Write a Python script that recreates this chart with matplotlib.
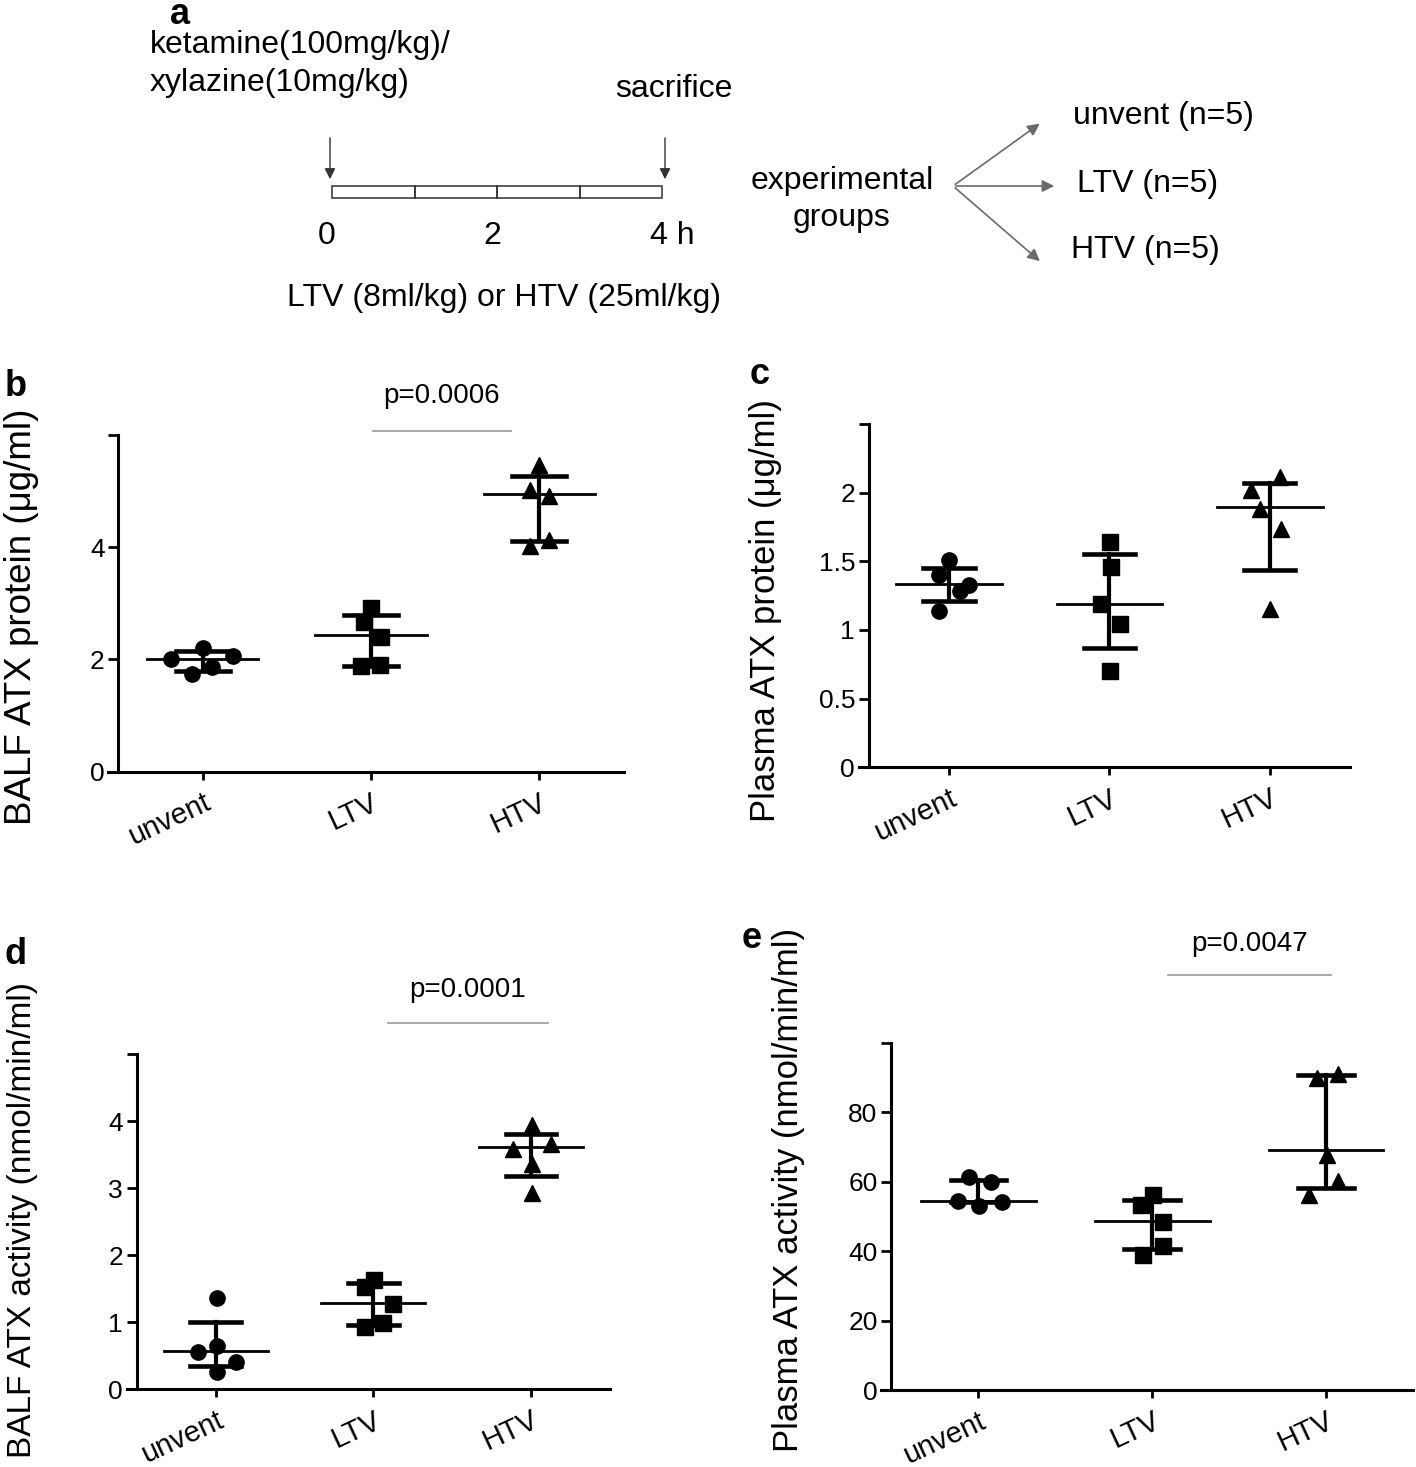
import numpy as np
import matplotlib.pyplot as plt
from matplotlib.patches import Rectangle
from matplotlib.transforms import ScaledTranslation

plt.rcParams['font.family'] = ['Liberation Sans', 'DejaVu Sans']

W, H = 1416, 1467
DPI = 100

groups = ['unvent', 'LTV', 'HTV']
markers = ['o', 's', '^']

# b: BALF ATX protein (ug/ml)
b_values = [[2.00, 2.21, 1.74, 1.86, 2.06],
            [2.91, 2.67, 2.40, 1.88, 1.90],
            [5.46, 5.01, 4.91, 4.01, 4.12]]
b_jitter = [[-0.19, 0.0, -0.06, 0.055, 0.18],
            [0.0, -0.044, 0.06, -0.057, 0.055],
            [0.0, -0.055, 0.06, -0.055, 0.06]]
b_mid = [2.00, 2.43, 4.94]
b_low = [1.80, 1.88, 4.11]
b_high = [2.15, 2.79, 5.26]

# c: Plasma ATX protein (ug/ml)
c_values = [[1.506, 1.397, 1.136, 1.331, 1.282],
            [1.64, 1.457, 1.19, 1.041, 0.698],
            [2.117, 2.02, 1.883, 1.732, 1.156]]
c_jitter = [[0.0, -0.06, -0.06, 0.125, 0.067],
            [0.004, 0.008, -0.052, 0.067, 0.004],
            [0.063, -0.119, -0.063, 0.069, 0.0]]
c_mid = [1.336, 1.192, 1.893]
c_low = [1.209, 0.869, 1.44]
c_high = [1.448, 1.55, 2.073]

# d: BALF ATX activity (nmol/min/ml)
d_values = [[1.365, 0.561, 0.65, 0.412, 0.253],
            [1.628, 1.519, 1.27, 0.923, 0.983],
            [3.935, 3.588, 3.653, 3.355, 2.928]]
d_jitter = [[0.006, -0.11, 0.006, 0.13, 0.006],
            [0.004, -0.053, 0.127, -0.053, 0.063],
            [0.004, -0.112, 0.125, 0.004, 0.004]]
d_mid = [0.576, 1.28, 3.608]
d_low = [0.352, 0.958, 3.181]
d_high = [1.007, 1.588, 3.801]

# e: Plasma ATX activity (nmol/min/ml)
e_values = [[61.25, 59.8, 54.3, 53.1, 54.0],
            [56.25, 53.2, 48.3, 38.9, 41.5],
            [89.9, 90.9, 67.8, 60.1, 56.25]]
e_jitter = [[-0.054, 0.071, -0.117, 0.004, 0.134],
            [0.004, -0.063, 0.061, -0.054, 0.061],
            [-0.054, 0.071, 0.004, 0.071, -0.096]]
e_mid = [54.3, 48.6, 69.0]
e_low = [54.0, 40.6, 58.3]
e_high = [60.6, 54.6, 90.7]

fig = plt.figure(figsize=(W / DPI, H / DPI), dpi=DPI)


def box(x0, y_top, x1, y_bot):
    return [x0 / W, 1 - y_bot / H, (x1 - x0) / W, (y_bot - y_top) / H]


def scatter_panel(rect, values, jitter, mid, low, high, ylim, yticks, ylabels):
    ax = fig.add_axes(rect)
    for i in range(3):
        xs = i + np.array(jitter[i])
        ax.plot(xs, values[i], linestyle='none', marker=markers[i],
                color='black', markersize=11, zorder=3)
        ax.plot([i - 0.33, i + 0.33], [mid[i], mid[i]], color='black', lw=2.0, zorder=4)
        ax.plot([i, i], [low[i], high[i]], color='black', lw=3.0, zorder=4)
        for v in (low[i], high[i]):
            ax.plot([i - 0.16, i + 0.16], [v, v], color='black', lw=3.3, zorder=4)
    ax.set_xlim(-0.56, 2.5)
    ax.set_ylim(*ylim)
    ax.spines['left'].set_position(('data', -0.5))
    for s in ('top', 'right'):
        ax.spines[s].set_visible(False)
    for s in ('left', 'bottom'):
        ax.spines[s].set_linewidth(2.2)
    ax.set_yticks(yticks)
    ax.set_yticklabels(ylabels, fontsize=19)
    ax.set_xticks(range(3))
    ax.set_xticklabels(groups, fontsize=21, rotation=25, ha='right',
                       rotation_mode='anchor')
    off = ScaledTranslation(13 / DPI, 0, fig.dpi_scale_trans)
    for lab in ax.get_xticklabels():
        lab.set_transform(lab.get_transform() + off)
    ax.tick_params(axis='y', length=7, width=2, pad=3)
    ax.tick_params(axis='x', length=6, width=2, pad=6)
    ax.patch.set_visible(False)
    return ax


ax_b = scatter_panel(box(108.3, 434.7, 623.5, 771.7), b_values, b_jitter, b_mid, b_low, b_high,
                     (0, 6), [0, 2, 4, 6], ['0', '2', '4', ''])
ax_c = scatter_panel(box(859.3, 424, 1350, 767.3), c_values, c_jitter, c_mid, c_low, c_high,
                     (0, 2.5), [0, 0.5, 1, 1.5, 2, 2.5], ['0', '0.5', '1', '1.5', '2', ''])
ax_d = scatter_panel(box(127.3, 1054, 610, 1389.3), d_values, d_jitter, d_mid, d_low, d_high,
                     (0, 5), [0, 1, 2, 3, 4, 5], ['0', '1', '2', '3', '4', ''])
ax_e = scatter_panel(box(881, 1042.7, 1413, 1390), e_values, e_jitter, e_mid, e_low, e_high,
                     (0, 100), [0, 20, 40, 60, 80, 100], ['0', '20', '40', '60', '80', ''])

# significance bars
sig = [(ax_b, 1.01, 1.83, 6.07, 6.69, 'p=0.0006'),
       (ax_d, 1.09, 2.11, 5.46, 5.95, 'p=0.0001'),
       (ax_e, 1.09, 2.03, 119.5, 128.4, 'p=0.0047')]
for ax, x0, x1, yl, yt, txt in sig:
    ax.plot([x0, x1], [yl, yl], color='#9a9a9a', lw=1.2, clip_on=False)
    ax.text((x0 + x1) / 2, yt, txt, ha='center', va='center', fontsize=20, clip_on=False)

# y labels
ylab = [(22, 617, 26.5, 'BALF ATX protein (μg/ml)'),
        (765, 611, 25, 'Plasma ATX protein (μg/ml)'),
        (23, 1220, 24, 'BALF ATX activity (nmol/min/ml)'),
        (789, 1190, 25, 'Plasma ATX activity (nmol/min/ml)')]
for lx, ly, fs, s in ylab:
    fig.text(lx / W, 1 - ly / H, s, rotation=90, ha='center', va='center', fontsize=fs)

# panel letters
for lx, ly, l in [(180, 15, 'a'), (16, 386, 'b'), (760, 374, 'c'), (16, 955, 'd'), (752, 938, 'e')]:
    fig.text(lx / W, 1 - ly / H, l, fontsize=26, fontweight='bold', ha='center', va='center')

# panel a: protocol scheme drawn in pixel coordinates
ov = fig.add_axes([0, 0, 1, 1])
ov.set_xlim(0, W)
ov.set_ylim(H, 0)
ov.axis('off')

hours = [0, 1, 2, 3, 4]
hour_labels = {0: '0', 2: '2', 4: '4 h'}
t0, t1 = 332, 662
hx = lambda h: t0 + (t1 - t0) * h / 4
for h in hours[:-1]:
    ov.add_patch(Rectangle((hx(h), 186), hx(h + 1) - hx(h), 12, fill=False,
                           edgecolor='#333333', lw=1.1))
for h, s in hour_labels.items():
    ov.text(hx(h) + (10 if s == '4 h' else -5), 236, s, ha='center', va='center', fontsize=23)

arrow_kw = dict(arrowstyle='-|>', color='#333333', lw=1.0, mutation_scale=16)
ov.annotate('', xy=(330, 182), xytext=(330, 135), arrowprops=arrow_kw)
ov.annotate('', xy=(665, 182), xytext=(665, 135), arrowprops=arrow_kw)

ov.text(150, 45, 'ketamine(100mg/kg)/', ha='left', va='center', fontsize=23)
ov.text(150, 83, 'xylazine(10mg/kg)', ha='left', va='center', fontsize=23)
ov.text(733, 89, 'sacrifice', ha='right', va='center', fontsize=23)
ov.text(504, 298, 'LTV (8ml/kg) or HTV (25ml/kg)', ha='center', va='center', fontsize=23)

ov.text(842, 181, 'experimental', ha='center', va='center', fontsize=23)
ov.text(842, 218, 'groups', ha='center', va='center', fontsize=23)
grp_kw = dict(arrowstyle='-|>', color='#6b6b6b', lw=1.2, mutation_scale=18)
ov.annotate('', xy=(1042, 122), xytext=(953, 186), arrowprops=grp_kw)
ov.annotate('', xy=(1057, 186), xytext=(953, 186), arrowprops=grp_kw)
ov.annotate('', xy=(1042, 263), xytext=(953, 186), arrowprops=grp_kw)
ov.text(1073, 116, 'unvent (n=5)', ha='left', va='center', fontsize=23)
ov.text(1077, 184, 'LTV (n=5)', ha='left', va='center', fontsize=23)
ov.text(1071, 250, 'HTV (n=5)', ha='left', va='center', fontsize=23)

fig.savefig('out.png', dpi=DPI)
